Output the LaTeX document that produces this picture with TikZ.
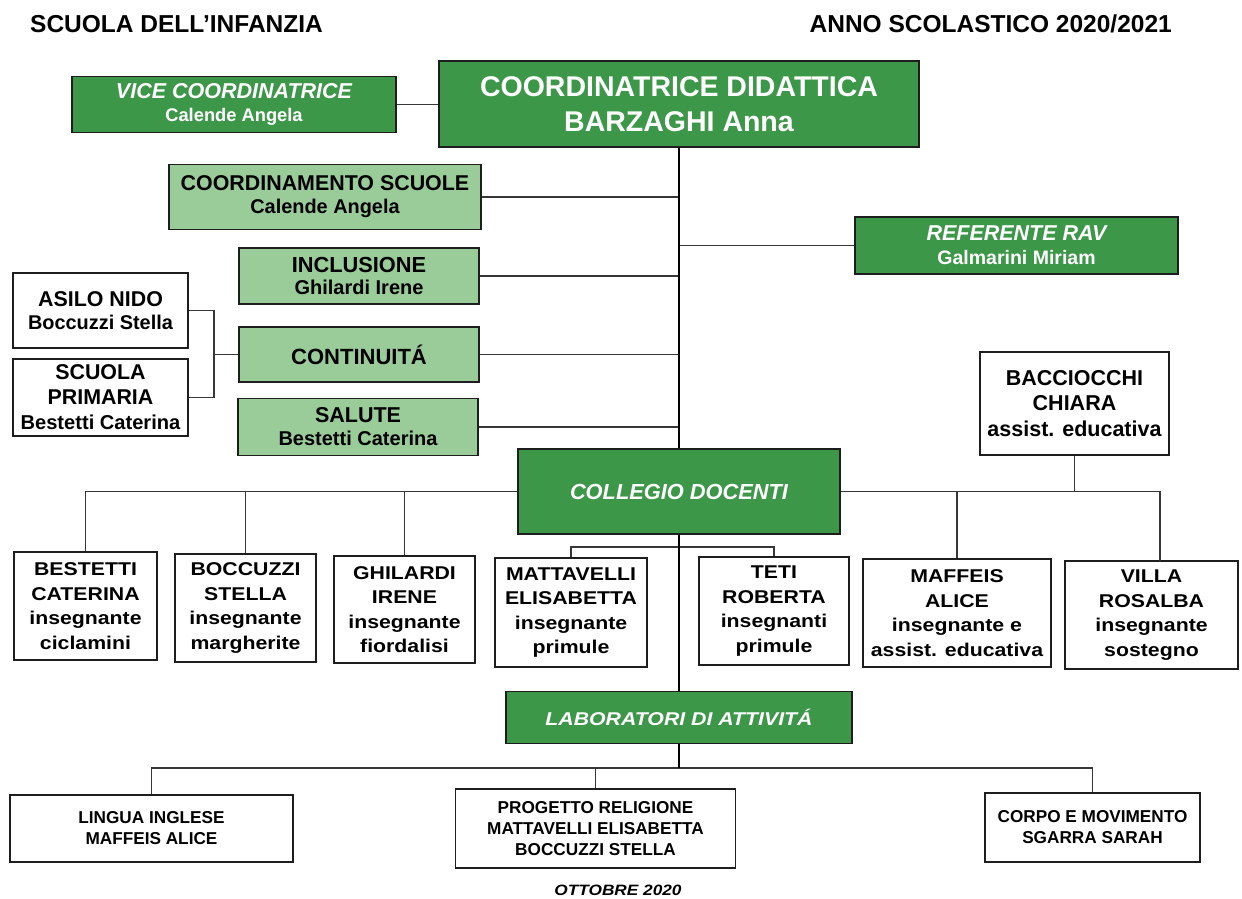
\documentclass[tikz,border=0pt]{standalone}
\usepackage{fontspec}
\setmainfont{Liberation Sans}
\newfontfamily\wf[FakeStretch=1.15]{Liberation Sans}
\definecolor{dgreen}{RGB}{60,152,72}
\definecolor{lgreen}{RGB}{153,204,153}
\definecolor{bordc}{RGB}{30,30,30}
\definecolor{linec}{RGB}{55,55,55}
\begin{document}
\begin{tikzpicture}[x=1pt,y=-1pt,
  box/.style={draw=bordc, line width=1.6pt, inner sep=0pt, align=center},
  dk/.style={box, fill=dgreen, text=white},
  lt/.style={box, fill=lgreen, text=black},
  wt/.style={box, fill=white, text=black},
  teach/.style={wt, font=\wf\fontsize{18.5}{24.5}\selectfont\bfseries},
  labox/.style={wt, font=\fontsize{17.2}{21}\selectfont\bfseries},
  conn/.style={draw=linec, line width=1.6pt},
  mainconn/.style={draw=black, line width=2pt}]
\useasboundingbox (0,0) rectangle (1242,899);

% headers
\node[anchor=base west, inner sep=0pt, font=\fontsize{24.5}{28}\selectfont\bfseries] (h1) at (30,32.5) {SCUOLA DELL’INFANZIA};
\node[anchor=base east, inner sep=0pt, font=\fontsize{24.5}{28}\selectfont\bfseries] (h2) at (1172,32.5) {ANNO SCOLASTICO 2020/2021};

% top level
\node[dk, minimum width=480, minimum height=86, font=\fontsize{28.5}{35}\selectfont\bfseries] (coord) at (679,104) {COORDINATRICE DIDATTICA\\BARZAGHI Anna};
\node[dk, minimum width=324, minimum height=56, font=\fontsize{21.5}{22.5}\selectfont\bfseries] (vice) at (234,104.5) {{\itshape VICE COORDINATRICE}\\{\fontsize{18.3}{22.5}\selectfont Calende Angela}};

% side boxes
\node[lt, minimum width=312, minimum height=65, font=\fontsize{21.4}{23}\selectfont\bfseries] (cs) at (325,197) {COORDINAMENTO SCUOLE\\{\fontsize{19.9}{23}\selectfont Calende Angela}};
\node[dk, minimum width=323, minimum height=57, font=\fontsize{21.5}{24}\selectfont\bfseries] (rav) at (1016.5,245.5) {{\itshape REFERENTE RAV}\\{\fontsize{19.5}{24}\selectfont Galmarini Miriam}};
\node[lt, minimum width=240, minimum height=56, font=\fontsize{21.8}{22.5}\selectfont\bfseries] (incl) at (359,276) {INCLUSIONE\\{\fontsize{20}{22.5}\selectfont Ghilardi Irene}};
\node[wt, minimum width=175, minimum height=75, font=\fontsize{21.4}{23}\selectfont\bfseries] (asilo) at (100.5,310.5) {ASILO NIDO\\{\fontsize{19.9}{23}\selectfont Boccuzzi Stella}};
\node[wt, minimum width=175, minimum height=77, font=\fontsize{21.4}{25}\selectfont\bfseries] (prim) at (100.5,397.5) {SCUOLA\\PRIMARIA\\{\fontsize{20.1}{25}\selectfont Bestetti Caterina}};
\node[lt, minimum width=240, minimum height=55, font=\fontsize{22}{24}\selectfont\bfseries] (cont) at (359,354.5) {CONTINUITÁ};
\node[lt, minimum width=240, minimum height=57, font=\fontsize{21.5}{23}\selectfont\bfseries] (salute) at (358,427) {SALUTE\\{\fontsize{20}{23}\selectfont Bestetti Caterina}};
\node[wt, minimum width=189, minimum height=103, font=\fontsize{21.5}{25.5}\selectfont\bfseries] (bacc) at (1074.5,403.5) {BACCIOCCHI\\CHIARA\\assist. educativa};

% collegio
\node[dk, minimum width=322, minimum height=85, font=\fontsize{21.8}{24}\selectfont\bfseries\itshape] (colleg) at (679,491.5) {COLLEGIO DOCENTI};

% teachers
\node[teach, minimum width=143, minimum height=108] (bes) at (85.5,606) {BESTETTI\\CATERINA\\insegnante\\ciclamini};
\node[teach, minimum width=141, minimum height=108] (boc) at (245.5,608) {BOCCUZZI\\STELLA\\insegnante\\margherite};
\node[teach, minimum width=141, minimum height=107] (ghi) at (404.5,609.5) {GHILARDI\\IRENE\\insegnante\\fiordalisi};
\node[teach, minimum width=152, minimum height=109] (mat) at (571,612.5) {MATTAVELLI\\ELISABETTA\\insegnante\\primule};
\node[teach, minimum width=150, minimum height=108] (teti) at (774,611) {TETI\\ROBERTA\\insegnanti\\primule};
\node[teach, minimum width=188, minimum height=108] (maf) at (957,613) {MAFFEIS\\ALICE\\insegnante e\\assist. educativa};
\node[teach, minimum width=173, minimum height=108] (villa) at (1151.5,615) {VILLA\\ROSALBA\\insegnante\\sostegno};

% laboratori
\node[dk, minimum width=346, minimum height=52, font=\wf\fontsize{18.5}{22}\selectfont\bfseries\itshape] (lab) at (679,717.5) {LABORATORI DI ATTIVITÁ};
\node[labox, minimum width=283, minimum height=67] (ling) at (151.5,828.5) {LINGUA INGLESE\\MAFFEIS ALICE};
\node[labox, minimum width=280, minimum height=79] (prog) at (595.5,828.5) {PROGETTO RELIGIONE\\MATTAVELLI ELISABETTA\\BOCCUZZI STELLA};
\node[labox, minimum width=215, minimum height=69] (corpo) at (1092.5,827.5) {CORPO E MOVIMENTO\\SGARRA SARAH};

\node[anchor=base, inner sep=0pt, font=\wf\fontsize{15}{18}\selectfont\bfseries\itshape] (ott) at (618,895) {OTTOBRE 2020};

% junction coordinates
\coordinate (brx) at (214,354.5);
\coordinate (vtop) at (1160,561);
\coordinate (mt) at (679,547);
\coordinate (lb) at (679,768);

% connectors
\draw[conn] (vice.east) -- (vice.east -| coord.west);
\draw[conn] (cs.east) -- (cs.east -| coord.south);
\draw[conn] (rav.west) -- (rav.west -| coord.south);
\draw[conn] (incl.east) -- (incl.east -| coord.south);
\draw[conn] (cont.east) -- (cont.east -| coord.south);
\draw[conn] (salute.east) -- (salute.east -| coord.south);
\draw[conn] (asilo.east) -| (brx) |- (prim.east);
\draw[conn] (brx) -- (cont.west);
\draw[conn] (colleg.west) -| (bes.north);
\draw[conn] (boc.north) -- (boc.north |- colleg.west);
\draw[conn] (ghi.north) -- (ghi.north |- colleg.west);
\draw[conn] (colleg.east) -| (vtop);
\draw[conn] (maf.north) -- (maf.north |- colleg.east);
\draw[conn] (bacc.south) -- (bacc.south |- colleg.east);
\draw[conn] (mat.north) |- (mt) -| (teti.north);
\draw[conn] (ling.north) |- (lb) -| (corpo.north);
\draw[conn] (prog.north) -- (prog.north |- lb);
\draw[mainconn] (coord.south) -- (colleg.north);
\draw[mainconn] (colleg.south) -- (lab.north);
\draw[mainconn] (lab.south) -- (lb);
\end{tikzpicture}
\end{document}
